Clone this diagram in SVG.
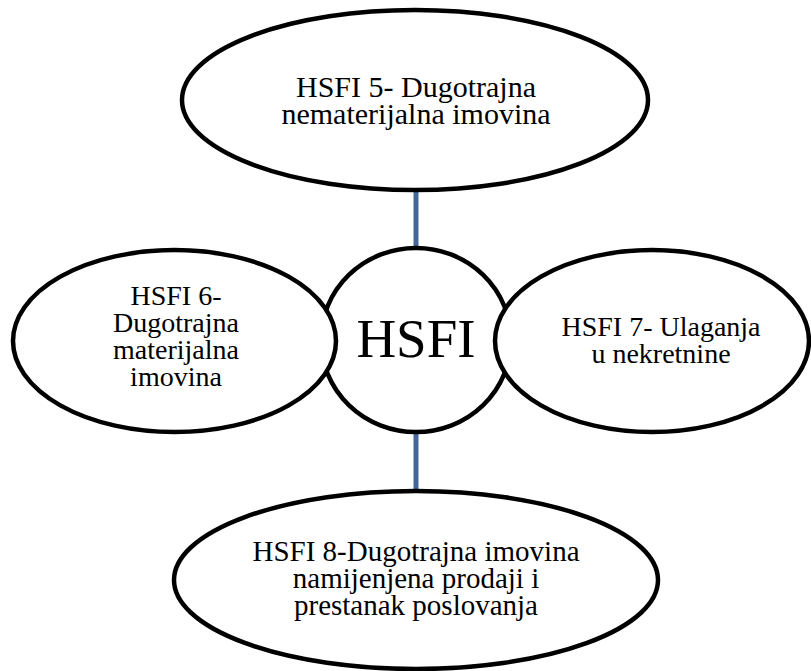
<svg xmlns="http://www.w3.org/2000/svg" width="811" height="671" viewBox="0 0 811 671">
<style>
.node{fill:#ffffff;stroke:#000000;stroke-width:4.5}
.lbl{font-family:"Liberation Serif","Times New Roman",serif;fill:#000000;text-anchor:middle}
.conn{stroke:#44689a;stroke-width:5;fill:none}
</style>
<rect x="0" y="0" width="811" height="671" fill="#ffffff"/>
<g id="connectors">
<line class="conn" x1="416" y1="190" x2="416" y2="248"/>
<line class="conn" x1="416" y1="432" x2="416" y2="489"/>
</g>
<g id="node-hsfi5">
<ellipse class="node" cx="415" cy="100" rx="233" ry="90"/>
<text class="lbl" font-size="30" x="416"><tspan x="416" y="97">HSFI 5- Dugotrajna</tspan><tspan x="416" y="124">nematerijalna imovina</tspan></text>
</g>
<g id="node-hsfi8">
<ellipse class="node" cx="416" cy="580" rx="242" ry="89"/>
<text class="lbl" font-size="29"><tspan x="416" y="561">HSFI 8-Dugotrajna imovina</tspan><tspan x="416" y="588">namijenjena prodaji i</tspan><tspan x="416" y="615">prestanak poslovanja</tspan></text>
</g>
<g id="node-hsfi">
<ellipse class="node" cx="416" cy="340" rx="95" ry="92"/>
<text class="lbl" font-size="55" x="416" y="357">HSFI</text>
</g>
<g id="node-hsfi6">
<ellipse class="node" cx="174.5" cy="341" rx="161.5" ry="91"/>
<text class="lbl" font-size="28"><tspan x="176" y="305">HSFI 6-</tspan><tspan x="176" y="332">Dugotrajna</tspan><tspan x="176" y="359">materijalna</tspan><tspan x="176" y="386">imovina</tspan></text>
</g>
<g id="node-hsfi7">
<ellipse class="node" cx="652" cy="341" rx="157" ry="91"/>
<text class="lbl" font-size="28"><tspan x="661" y="336">HSFI 7- Ulaganja</tspan><tspan x="661" y="363">u nekretnine</tspan></text>
</g>
</svg>
